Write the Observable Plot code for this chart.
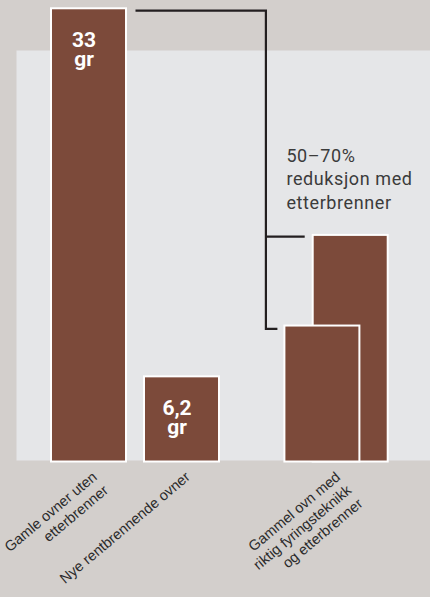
<!DOCTYPE html>
<html>
<head>
<meta charset="utf-8">
<script src="https://cdn.jsdelivr.net/npm/d3@7"></script>
<script src="https://cdn.jsdelivr.net/npm/@observablehq/plot@0.6"></script>
<style>
  html, body { margin: 0; padding: 0; background: #d3cfcc; }
  #chart { position: relative; width: 430px; height: 597px; overflow: hidden; }
  svg { display: block; overflow: visible; }
</style>
</head>
<body>
<div id="chart"></div>
<script>
// ---- data ----
const categories = [
  "Gamle ovner uten\netterbrenner",
  "Nye rentbrennende ovner",
  "Gammel ovn med\nriktig fyringsteknikk\nog etterbrenner"
];
const emissionValues = [33, 6.2];          // first two categories
const emissionLabels = ["33\ngr", "6,2\ngr"];
const reductionValues = [16.5, 9.9];       // 50 % and 70 % reduction (third category)
const annotationText = "50–70%\nreduksjon med\netterbrenner";

// ---- styling ----
const BAR = "#7c4a3a";
const PANEL = "#e5e6e8";
const INK = "#231f20";
const BACK_DX = 75.7, FRONT_DX = 47.4, GROUP_LABEL_DX = 58.3;

const mainBars = categories.slice(0, 2).map((c, i) => ({cat: c, v: emissionValues[i], label: emissionLabels[i]}));
const backBar = [{cat: categories[2], v: reductionValues[0]}];
const frontBar = [{cat: categories[2], v: reductionValues[1]}];

function connector(index, scales) {
  const x = scales.x, y = scales.y;
  const bw = typeof x.bandwidth === "function" ? x.bandwidth() : 75.5;
  const c1Right = x(categories[0]) + bw;
  const c3Center = x(categories[2]) + bw / 2;
  const xv = c3Center - 8.6;
  const yTop = y(emissionValues[0]) + 2.4;
  const yBack = y(reductionValues[0]) + 1.8;
  const yFront = y(reductionValues[1]) + 3.4;
  const backLeft = c3Center + BACK_DX - bw / 2 - 8;
  const frontLeft = c3Center + FRONT_DX - bw / 2 - 7;
  const p = document.createElementNS("http://www.w3.org/2000/svg", "path");
  p.setAttribute("d",
    `M${c1Right + 9.5},${yTop}H${xv}V${yFront}H${frontLeft}` +
    `M${xv},${yBack}H${backLeft}`);
  p.setAttribute("fill", "none");
  p.setAttribute("stroke", INK);
  p.setAttribute("stroke-width", 2.2);
  p.setAttribute("stroke-linejoin", "miter");
  return p;
}

const labelStyle = {
  y: () => 0, text: d => d, dy: 7, rotate: -40,
  textAnchor: "end", lineAnchor: "top", lineHeight: 1.2,
  fill: "#2b2b2b", fontSize: 14.5, fontFamily: "Liberation Sans"
};

const chart = Plot.plot({
  width: 430,
  height: 597,
  marginTop: 50,
  marginLeft: 16,
  marginRight: 0,
  marginBottom: 137,
  style: {background: "transparent", overflow: "visible"},
  x: {type: "band", domain: categories, range: [50.95, 313.05], paddingInner: 0.191, paddingOuter: 0, align: 0.5, axis: null},
  y: {domain: [0, 33], range: [461.5, 8.3], axis: null},
  marks: [
    Plot.frame({fill: PANEL, stroke: null}),
    Plot.barY(mainBars, {x: "cat", y: "v", fill: BAR, stroke: "white", strokeWidth: 2}),
    Plot.barY(backBar, {x: "cat", y: "v", dx: BACK_DX, fill: BAR, stroke: "white", strokeWidth: 2}),
    Plot.barY(frontBar, {x: "cat", y: "v", dx: FRONT_DX, fill: BAR, stroke: "white", strokeWidth: 2}),
    connector,
    Plot.text(mainBars, {
      x: "cat", y: "v", text: "label", dx: -5, dy: 25,
      lineAnchor: "top", textAnchor: "middle", lineHeight: 0.9,
      fill: "white", fontSize: 21, fontWeight: "bold", fontFamily: "Roboto"
    }),
    Plot.text([{cat: categories[2], v: reductionValues[0], t: annotationText}], {
      x: "cat", y: "v", text: "t", dx: 11.4, dy: -26.6,
      textAnchor: "start", lineAnchor: "bottom", lineHeight: 1.3,
      fill: "#3b3b3b", fontSize: 18, fontFamily: "Roboto"
    }),
    Plot.text(categories.slice(0, 2), {x: d => d, dx: 1, ...labelStyle}),
    Plot.text(categories.slice(2), {x: d => d, dx: GROUP_LABEL_DX, ...labelStyle})
  ]
});
// slightly wider tracking for the annotation, as in the reference
d3.select(chart).selectAll("text")
  .filter(function () { return this.textContent.startsWith("50"); })
  .style("letter-spacing", "0.6px");
document.getElementById("chart").appendChild(chart);
</script>
</body>
</html>
